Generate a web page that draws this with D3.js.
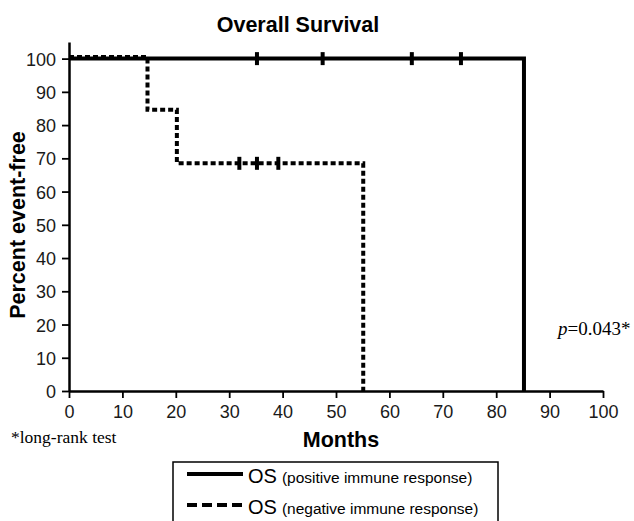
<!DOCTYPE html>
<html>
<head>
<meta charset="utf-8">
<script src="https://cdn.jsdelivr.net/npm/d3@7"></script>
<style>
  body { margin: 0; background: #fff; }
  svg { display: block; }
</style>
</head>
<body>
<div id="chart"></div>
<script>
// step data, [months, percent]
var posSteps = [[0, 100], [85.2, 100], [85.2, 0]];
var negSteps = [[0, 100.5], [14.7, 100.5], [14.7, 84.6], [20.2, 84.6], [20.2, 68.5], [55.1, 68.5], [55.1, 0]];
var posCensored = [35.2, 47.5, 64.2, 73.4];
var negCensored = [31.9, 35.2, 39.2];
var xTicks = [0, 10, 20, 30, 40, 50, 60, 70, 80, 90, 100];
var yTicks = [0, 10, 20, 30, 40, 50, 60, 70, 80, 90, 100];
var legendLabels = [
  { os: 'OS', rest: '(positive immune response)', dash: null },
  { os: 'OS', rest: '(negative immune response)', dash: '10,5' }
];

var W = 634, H = 521;
var sans = 'Liberation Sans, Arial, sans-serif';
var serif = 'Liberation Serif, Times New Roman, serif';

var svg = d3.select('#chart').append('svg')
  .attr('width', W)
  .attr('height', H);

var x = d3.scaleLinear().domain([0, 100]).range([69, 603]);
var y = d3.scaleLinear().domain([0, 105]).range([391, 42]);

// axes
var gx = svg.append('g')
  .attr('transform', 'translate(0,' + y(0) + ')')
  .call(d3.axisBottom(x).tickValues(xTicks).tickSize(7).tickPadding(5).tickSizeOuter(0));
var gy = svg.append('g')
  .attr('transform', 'translate(' + x(0) + ',0)')
  .call(d3.axisLeft(y).tickValues(yTicks).tickSize(7).tickPadding(6).tickSizeOuter(0));

[gx, gy].forEach(function(g){
  g.select('.domain').attr('stroke', '#000').attr('stroke-width', 2.5);
  g.selectAll('.tick line').attr('stroke', '#000').attr('stroke-width', 1.8);
  g.selectAll('.tick text')
    .attr('fill', '#1a1a1a')
    .style('font-family', sans)
    .style('font-size', '18px');
});
gx.selectAll('.tick text').attr('dy', '0.85em');
gy.selectAll('.tick text').attr('dy', '0.36em');

var line = d3.line()
  .x(function(d){ return x(d[0]); })
  .y(function(d){ return y(d[1]); });

// negative (dotted)
svg.append('path')
  .datum(negSteps)
  .attr('fill', 'none')
  .attr('stroke', '#000')
  .attr('stroke-width', 4)
  .attr('stroke-dasharray', '5,3')
  .attr('d', line);

// positive (solid)
svg.append('path')
  .datum(posSteps)
  .attr('fill', 'none')
  .attr('stroke', '#000')
  .attr('stroke-width', 4)
  .attr('d', line);

// censor marks
function censor(data, level){
  svg.append('g').selectAll('line')
    .data(data)
    .enter()
    .append('line')
    .attr('x1', function(d){ return x(d); })
    .attr('x2', function(d){ return x(d); })
    .attr('y1', y(level) - 6.5)
    .attr('y2', y(level) + 6.5)
    .attr('stroke', '#000')
    .attr('stroke-width', 4);
}
censor(posCensored, 100);
censor(negCensored, 68.5);

// title and axis labels
svg.append('text')
  .attr('x', 298).attr('y', 32)
  .attr('text-anchor', 'middle')
  .style('font-family', sans)
  .style('font-weight', 'bold')
  .style('font-size', '21.5px')
  .text('Overall Survival');

svg.append('text')
  .attr('transform', 'translate(25,225) rotate(-90)')
  .attr('text-anchor', 'middle')
  .style('font-family', sans)
  .style('font-weight', 'bold')
  .style('font-size', '21.5px')
  .text('Percent event-free');

svg.append('text')
  .attr('x', 341).attr('y', 447)
  .attr('text-anchor', 'middle')
  .style('font-family', sans)
  .style('font-weight', 'bold')
  .style('font-size', '21.5px')
  .text('Months');

svg.append('text')
  .attr('x', 11).attr('y', 443)
  .style('font-family', serif)
  .style('font-size', '17.5px')
  .text('*long-rank test');

var pText = svg.append('text')
  .attr('x', 558).attr('y', 335)
  .style('font-family', serif)
  .style('font-size', '19px');
pText.append('tspan').style('font-style', 'italic').text('p');
pText.append('tspan').text('=0.043*');

// legend
var legend = svg.append('g');
legend.append('rect')
  .attr('x', 173).attr('y', 462)
  .attr('width', 325).attr('height', 70)
  .attr('fill', 'none')
  .attr('stroke', '#000')
  .attr('stroke-width', 1.5);

var item = legend.selectAll('.item')
  .data(legendLabels)
  .enter()
  .append('g')
  .attr('transform', function(d, i){ return 'translate(0,' + (474 + i * 31) + ')'; });

item.append('line')
  .attr('x1', 187).attr('x2', 243)
  .attr('y1', 0).attr('y2', 0)
  .attr('stroke', '#000')
  .attr('stroke-width', 4)
  .attr('stroke-dasharray', function(d){ return d.dash; });

var itemText = item.append('text')
  .attr('x', 248).attr('y', 9)
  .style('font-family', sans);
itemText.append('tspan').style('font-size', '20px').text(function(d){ return d.os; });
itemText.append('tspan').attr('dx', 5).style('font-size', '15.5px').text(function(d){ return d.rest; });
</script>
</body>
</html>
